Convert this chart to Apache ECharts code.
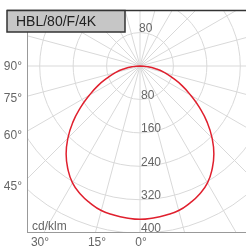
<!DOCTYPE html>
<html>
<head>
<meta charset="utf-8">
<script src="https://cdn.jsdelivr.net/npm/echarts@6/dist/echarts.min.js"></script>
<style>
html, body { margin: 0; padding: 0; background: #fff; }
#wrap { position: relative; width: 246px; height: 248px; overflow: hidden; }
#polar { position: absolute; left: 27px; top: 10px; width: 219px; height: 223px; }
#frame { position: absolute; left: 0; top: 0; width: 246px; height: 248px; pointer-events: none; }
</style>
</head>
<body>
<div id="wrap">
    <div id="polar"></div>
    <div id="frame"></div>
</div>
<script>
// data
const titleText = 'HBL/80/F/4K';
const unitText = 'cd/klm';
const gammaAngles = [0, 5, 10, 15, 20, 25, 30, 35, 40, 45, 50, 55, 60, 65, 70, 75, 80, 85, 90];
const intensity = [367, 365, 362, 358, 349, 338, 323, 301, 275, 244, 210, 174, 140, 111, 83, 61, 38, 17, 0];
const radiusLabels = [80, 160, 240, 320, 400];
const upperRadiusLabels = [80];
const sideLabels = ['90°', '75°', '60°', '45°'];
const bottomLabels = ['30°', '15°', '0°'];

const font = '"Liberation Sans", Arial, sans-serif';
const gridColor = '#d9d9d9';

// curve: left half (angle = gamma), then right half (angle = 360 - gamma)
let curve = [];
for (let i = gammaAngles.length - 1; i >= 0; i--) {
    curve.push([intensity[i], gammaAngles[i]]);
}
for (let i = 1; i < gammaAngles.length; i++) {
    curve.push([intensity[i], 360 - gammaAngles[i]]);
}

let polarChart = echarts.init(document.getElementById('polar'));
polarChart.setOption({
    animation: false,
    polar: [
        { center: [113, 56], radius: 234 },
        { center: [113, 56], radius: 234 }
    ],
    angleAxis: [
        {
            polarIndex: 0,
            type: 'value', min: 0, max: 360, interval: 15,
            startAngle: 270,
            axisLine: { show: false }, axisTick: { show: false }, axisLabel: { show: false },
            splitLine: { show: true, lineStyle: { color: gridColor, width: 1 } }
        },
        {
            polarIndex: 1,
            type: 'value', min: 0, max: 360, interval: 15,
            startAngle: 90,
            axisLine: { show: false }, axisTick: { show: false }, axisLabel: { show: false },
            splitLine: { show: false }
        }
    ],
    radiusAxis: [
        {
            polarIndex: 0,
            type: 'value', min: 0, max: 560, interval: 80,
            axisLine: { show: false }, axisTick: { show: false },
            axisLabel: {
                formatter: v => radiusLabels.indexOf(v) >= 0 ? String(v) : '',
                color: '#666', fontSize: 12, fontFamily: font, lineHeight: 8,
                align: 'left', verticalAlign: 'bottom', margin: 1
            },
            splitLine: { show: true, lineStyle: { color: gridColor, width: 1 } }
        },
        {
            polarIndex: 1,
            type: 'value', min: 0, max: 560, interval: 80,
            axisLine: { show: false }, axisTick: { show: false },
            axisLabel: {
                formatter: v => upperRadiusLabels.indexOf(v) >= 0 ? String(v) : '',
                color: '#666', fontSize: 12, fontFamily: font, lineHeight: 8,
                align: 'left', verticalAlign: 'bottom', margin: 1
            },
            splitLine: { show: false }
        }
    ],
    series: [{
        type: 'line',
        coordinateSystem: 'polar',
        polarIndex: 0,
        data: curve,
        smooth: true,
        symbol: 'none',
        lineStyle: { color: '#e0202e', width: 1.5 }
    }]
});

// frame, title box and angle labels
const sidePos = [[22, 67], [22, 99], [22, 136], [22, 187]];
const bottomPos = [[40, 243], [97, 243], [141, 243]];
let texts = [];
sideLabels.forEach((t, i) => {
    texts.push({
        type: 'text', x: sidePos[i][0], y: sidePos[i][1],
        style: { text: t, fill: '#666', font: '12px ' + font, align: 'right', verticalAlign: 'middle' }
    });
});
bottomLabels.forEach((t, i) => {
    texts.push({
        type: 'text', x: bottomPos[i][0], y: bottomPos[i][1],
        style: { text: t, fill: '#666', font: '12px ' + font, align: 'center', verticalAlign: 'middle' }
    });
});

let frameChart = echarts.init(document.getElementById('frame'));
frameChart.setOption({
    animation: false,
    graphic: [
        { type: 'line', shape: { x1: 27.5, y1: 32, x2: 27.5, y2: 233 }, style: { stroke: '#999', lineWidth: 1 } },
        { type: 'line', shape: { x1: 27, y1: 232.5, x2: 246, y2: 232.5 }, style: { stroke: '#999', lineWidth: 1 } },
        { type: 'line', shape: { x1: 7, y1: 10.5, x2: 246, y2: 10.5 }, style: { stroke: '#333', lineWidth: 1.5 } },
        { type: 'rect', shape: { x: 7, y: 10.5, width: 118, height: 21.5 }, style: { fill: '#c6c6c6', stroke: '#333', lineWidth: 1.5 } },
        { type: 'text', x: 16, y: 22, style: { text: titleText, fill: '#222', font: '14px ' + font, verticalAlign: 'middle' } },
        { type: 'text', x: 32, y: 227, style: { text: unitText, fill: '#666', font: '12px ' + font, verticalAlign: 'middle' } }
    ].concat(texts)
});
</script>
</body>
</html>
